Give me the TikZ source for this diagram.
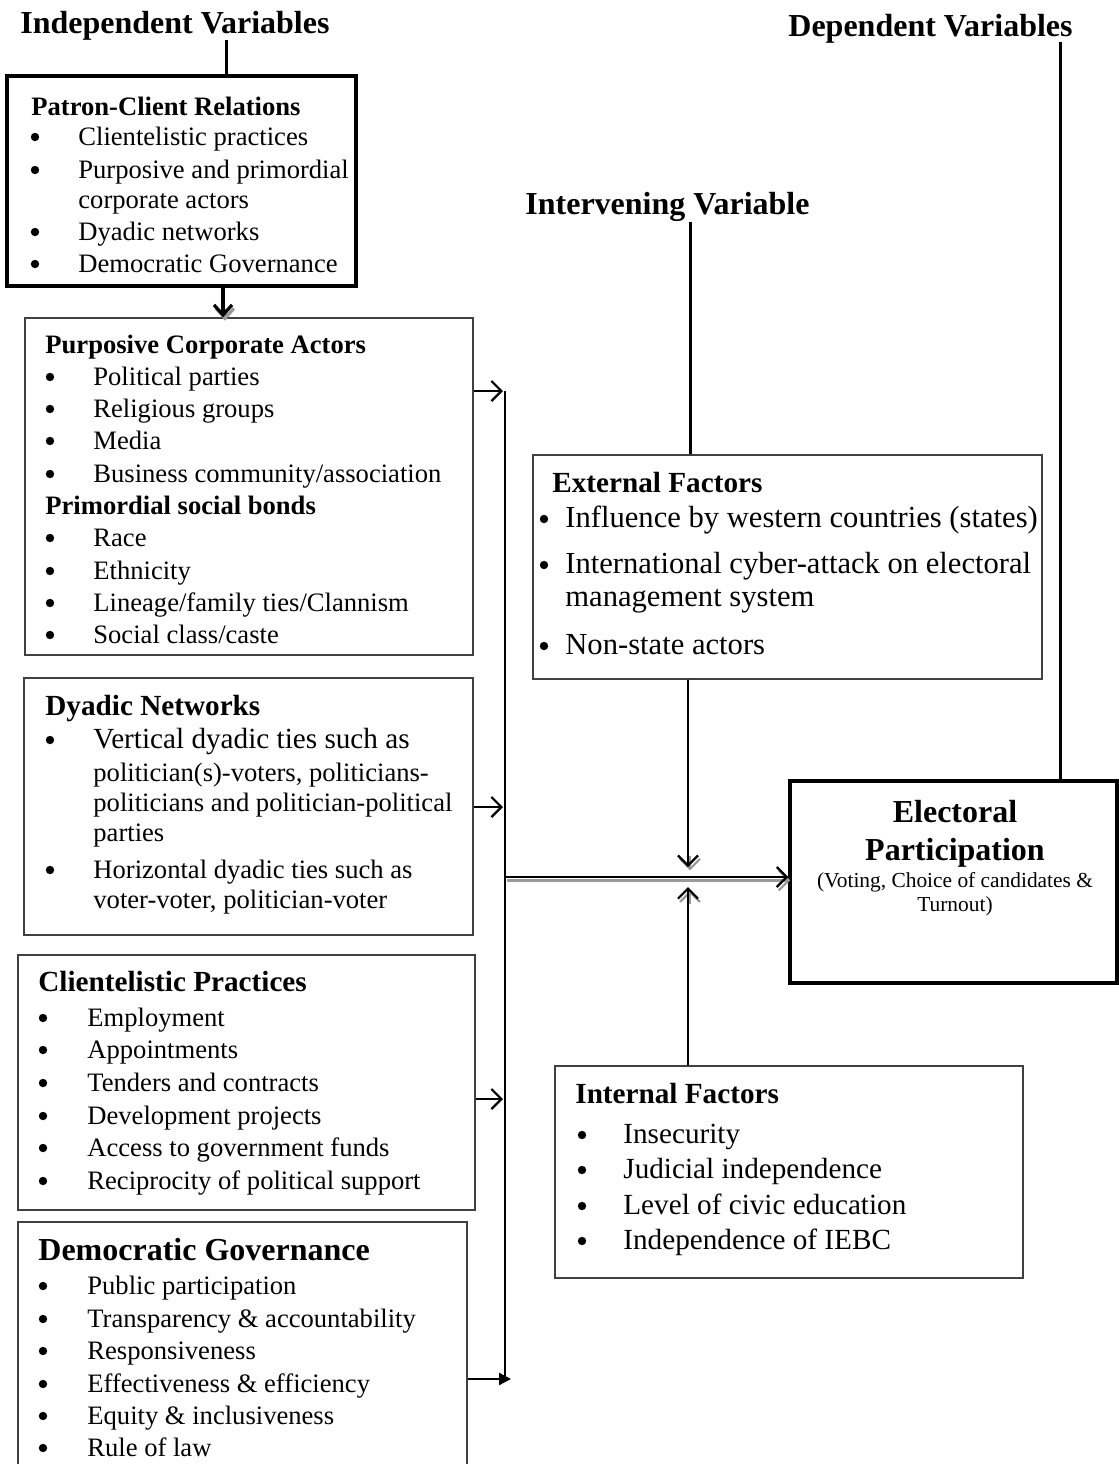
\documentclass[tikz,border=0pt]{standalone}
\usepackage{fontspec}
\setmainfont{Liberation Serif}
\usetikzlibrary{arrows.meta,fit}
\newcommand\fsA{\fontsize{13.3}{16}\selectfont}
\newcommand\fsB{\fontsize{14.6}{17}\selectfont}
\newcommand\fsC{\fontsize{16}{19}\selectfont}
\newcommand\fsE{\fontsize{15.3}{18}\selectfont}
\newcommand\fsS{\fontsize{10.7}{13}\selectfont}
\tikzset{
  thinbox/.style={draw=black!75,line width=0.7pt,inner sep=0pt},
  thickbox/.style={draw=black,line width=1.7pt,inner sep=0pt},
  dot/.style={circle,fill=black,draw=none,inner sep=0pt,minimum size=4.2pt},
  vline/.style={line width=1.5pt},
  spine/.style={line width=1.2pt},
  arr/.style={line width=1.1pt,-{Straight Barb[length=5pt,width=10pt]}},
  heavyarr/.style={line width=1.6pt,-{Straight Barb[length=5pt,width=9pt]}},
  tri/.style={line width=1.1pt,-{Triangle[length=6pt,width=6pt]}},
  shd/.style={black!40,transform canvas={shift={(1pt,-1.7pt)}}}
}
% text line: [font]{name}{x}{y}{text}
\newcommand\txl[5][\fsA]{\node[anchor=base west,inner sep=0pt,font=#1] (#2) at (#3,#4) {#5};}
% bullet line: [font]{name}{bullet x}{text x}{y}{text}
\newcommand\blt[6][\fsA]{\node[dot] (#2b) at (#3,#5-8) {};
  \node[anchor=base west,inner sep=0pt,font=#1] (#2) at (#4,#5) {#6};}
\begin{document}
\begin{tikzpicture}[x=0.5pt,y=-0.5pt]
\useasboundingbox (0,0) rectangle (1119,1464);
\clip (0,0) rectangle (1119,1464);
\fill[white] (0,0) rectangle (1119,1464);

% headers
\txl[\bfseries\fsC]{indep}{20}{33}{Independent Variables}
\txl[\bfseries\fsC]{dep}{788}{36}{Dependent Variables}
\txl[\bfseries\fsC]{interv}{525}{214}{Intervening Variable}

% boxes
\node[thickbox,fit={(7,76) (356,286)}] (pc) {};
\node[thinbox,fit={(25,318) (473,655)}] (pca) {};
\node[thinbox,fit={(24,678) (473,935)}] (dy) {};
\node[thinbox,fit={(18,955) (475,1210)}] (cp) {};
\node[thinbox,fit={(18,1222) (467,1500)}] (dg) {};
\node[thinbox,fit={(533,455) (1042,679)}] (ext) {};
\node[thinbox,fit={(555,1066) (1023,1278)}] (int) {};
\node[thickbox,fit={(790,781) (1117,983)}] (ep) {};

% Patron-Client
\txl[\bfseries\fsA]{pct}{31}{115}{Patron-Client Relations}
\blt{pc1}{35}{78}{145}{Clientelistic practices}
\blt{pc2}{35}{78}{178}{Purposive and primordial}
\txl{pc2x}{78}{208}{corporate actors}
\blt{pc3}{35}{78}{240}{Dyadic networks}
\blt{pc4}{35}{78}{272}{Democratic Governance}

% Purposive corporate actors
\txl[\bfseries\fsA]{pcat}{45}{353}{Purposive Corporate Actors}
\blt{pa1}{50}{93}{385}{Political parties}
\blt{pa2}{50}{93}{417}{Religious groups}
\blt{pa3}{50}{93}{449}{Media}
\blt{pa4}{50}{93}{482}{Business community/association}
\txl[\bfseries\fsA]{pst}{45}{514}{Primordial social bonds}
\blt{ps1}{50}{93}{546}{Race}
\blt{ps2}{50}{93}{579}{Ethnicity}
\blt{ps3}{50}{93}{611}{Lineage/family ties/Clannism}
\blt{ps4}{50}{93}{643}{Social class/caste}

% Dyadic networks
\txl[\bfseries\fsB]{dyt}{45}{715}{Dyadic Networks}
\blt[\fsB]{dy1}{50}{93}{748}{Vertical dyadic ties such as}
\txl{dy1a}{93}{781}{politician(s)-voters, politicians-}
\txl{dy1b}{93}{811}{politicians and politician-political}
\txl{dy1c}{93}{841}{parties}
\blt{dy2}{50}{93}{878}{Horizontal dyadic ties such as}
\txl{dy2a}{93}{908}{voter-voter, politician-voter}

% Clientelistic practices
\txl[\bfseries\fsB]{cpt}{38}{991}{Clientelistic Practices}
\blt{cp1}{43}{87}{1026}{Employment}
\blt{cp2}{43}{87}{1058}{Appointments}
\blt{cp3}{43}{87}{1091}{Tenders and contracts}
\blt{cp4}{43}{87}{1124}{Development projects}
\blt{cp5}{43}{87}{1156}{Access to government funds}
\blt{cp6}{43}{87}{1189}{Reciprocity of political support}

% Democratic governance
\txl[\bfseries\fsC]{dgt}{38}{1260}{Democratic Governance}
\blt{dg1}{43}{87}{1294}{Public participation}
\blt{dg2}{43}{87}{1327}{Transparency \& accountability}
\blt{dg3}{43}{87}{1359}{Responsiveness}
\blt{dg4}{43}{87}{1392}{Effectiveness \& efficiency}
\blt{dg5}{43}{87}{1424}{Equity \& inclusiveness}
\blt{dg6}{43}{87}{1456}{Rule of law}

% External factors
\txl[\bfseries\fsB]{extt}{552}{492}{External Factors}
\blt[\fsE]{ex1}{544}{565}{527}{Influence by western countries (states)}
\blt[\fsE]{ex2}{544}{565}{573}{International cyber-attack on electoral}
\txl[\fsE]{ex2a}{565}{606}{management system}
\blt[\fsE]{ex3}{544}{565}{654}{Non-state actors}

% Internal factors
\txl[\bfseries\fsB]{intt}{575}{1103}{Internal Factors}
\blt[\fsB]{in1}{582}{623}{1143}{Insecurity}
\blt[\fsB]{in2}{582}{623}{1178}{Judicial independence}
\blt[\fsB]{in3}{582}{623}{1214}{Level of civic education}
\blt[\fsB]{in4}{582}{623}{1249}{Independence of IEBC}

% Electoral participation
\node[anchor=base,inner sep=0pt,font=\bfseries\fsC] (ep1) at (955,822) {Electoral};
\node[anchor=base,inner sep=0pt,font=\bfseries\fsC] (ep2) at (955,860) {Participation};
\node[anchor=base,inner sep=0pt,font=\fsS] (ep3) at (955,887) {(Voting, Choice of candidates \&};
\node[anchor=base,inner sep=0pt,font=\fsS] (ep4) at (955,911) {Turnout)};

% coordinates
\coordinate (iL) at (226,40);
\coordinate (dL) at (1060,42);
\coordinate (vL) at (690,222);
\coordinate (pa) at (223,300);
\coordinate (pa0) at (223,306);
\coordinate (s1) at (503,391);
\coordinate (s2) at (503,807);
\coordinate (s3) at (503,1099);
\coordinate (s4) at (511,1379);
\coordinate (spT) at (505,391);
\coordinate (spB) at (505,1380);
\coordinate (jn) at (505,877);
\coordinate (cD) at (688,867);
\coordinate (cD0) at (688,853);
\coordinate (cU) at (688,887);
\coordinate (cU0) at (688,901);

% vertical header lines
\draw[vline] (iL) -- (iL |- pc.north);
\draw[vline] (dL) -- (dL |- ep.north);
\draw[vline] (vL) -- (vL |- ext.north);

% shadows (arrow heads and the main line)
\draw[heavyarr,shd] (pa0) -- (pca.north -| pa);
\draw[arr,shd] (jn) -- (ep.west |- jn);
\draw[arr,shd] (cD0) -- (cD);
\draw[arr,shd] (cU0) -- (cU);

% connectors
\draw[heavyarr] (pc.south -| pa) -- (pca.north -| pa);
\draw[arr] (pca.east |- s1) -- (s1);
\draw[arr] (dy.east |- s2) -- (s2);
\draw[arr] (cp.east |- s3) -- (s3);
\draw[tri] (dg.east |- s4) -- (s4);
\draw[spine] (spT) -- (spB);
\draw[arr] (jn) -- (ep.west |- jn);
\draw[arr] (ext.south -| cD) -- (cD);
\draw[arr] (int.north -| cU) -- (cU);
\end{tikzpicture}
\end{document}
